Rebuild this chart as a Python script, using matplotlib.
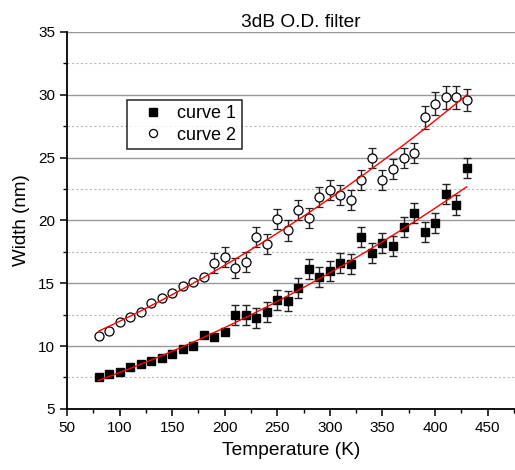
import numpy as np
import matplotlib
matplotlib.use("Agg")
import matplotlib.pyplot as plt
from matplotlib.ticker import MultipleLocator
from matplotlib.lines import Line2D

plt.rcParams['font.family'] = ['Liberation Sans', 'DejaVu Sans']

temperature = [80, 90, 100, 110, 120, 130, 140, 150, 160, 170, 180, 190,
               200, 210, 220, 230, 240, 250, 260, 270, 280, 290, 300, 310,
               320, 330, 340, 350, 360, 370, 380, 390, 400, 410, 420, 430]

curve1 = [7.5, 7.75, 7.9, 8.3, 8.55, 8.8, 9.05, 9.4, 9.8, 10.0, 10.9, 10.7,
          11.1, 12.5, 12.5, 12.2, 12.7, 13.7, 13.6, 14.6, 16.1, 15.5, 16.0, 16.6,
          16.5, 18.7, 17.4, 18.2, 18.0, 19.5, 20.6, 19.1, 19.8, 22.1, 21.2, 24.2]
curve1_err = [0, 0, 0, 0, 0, 0, 0, 0, 0, 0, 0, 0,
              0, 0.8, 0.8, 0.8, 0.8, 0.8, 0.8, 0.8, 0.8, 0.8, 0.8, 0.8,
              0.8, 0.8, 0.8, 0.8, 0.8, 0.8, 0.8, 0.8, 0.8, 0.8, 0.8, 0.8]

curve2 = [10.8, 11.2, 11.9, 12.3, 12.7, 13.4, 13.8, 14.2, 14.8, 15.1, 15.5, 16.6,
          17.1, 16.2, 16.7, 18.7, 18.1, 20.1, 19.2, 20.8, 20.2, 21.9, 22.4, 22.0,
          21.6, 23.2, 25.0, 23.2, 24.1, 25.0, 25.4, 28.2, 29.3, 29.8, 29.8, 29.6]
curve2_err = [0, 0, 0, 0, 0, 0, 0, 0, 0, 0, 0, 0.8,
              0.8, 0.8, 0.8, 0.8, 0.8, 0.8, 0.8, 0.8, 0.8, 0.8, 0.8, 0.8,
              0.8, 0.8, 0.8, 0.8, 0.8, 0.8, 0.8, 0.9, 0.9, 0.9, 0.9, 0.9]

fig = plt.figure(figsize=(5.15, 4.7), dpi=100)
ax = fig.add_axes([0.130, 0.130, 0.870, 0.802])

x = np.array(temperature, dtype=float)
xs = np.linspace(x.min(), x.max(), 200)

ax.errorbar(x, curve1, yerr=curve1_err, fmt='s', color='black', ms=5.8,
            ecolor='#222222', elinewidth=1.0, capsize=3.0, capthick=1.0,
            zorder=3)
ax.errorbar(x, curve2, yerr=curve2_err, fmt='o', color='black', mfc='white',
            mec='black', mew=0.9, ms=6.5, ecolor='#222222', elinewidth=1.0,
            capsize=3.0, capthick=1.0, zorder=3)

# quadratic fits through each series
for series in (curve1, curve2):
    coeffs = np.polyfit(x, series, 2)
    ax.plot(xs, np.polyval(coeffs, xs), color='red', lw=1.0, zorder=4)

ax.set_xlim(50, 476)
ax.set_ylim(5, 35)
ax.xaxis.set_major_locator(MultipleLocator(50))
ax.xaxis.set_minor_locator(MultipleLocator(25))
ax.yaxis.set_major_locator(MultipleLocator(5))
ax.yaxis.set_minor_locator(MultipleLocator(2.5))

ax.grid(True, which='major', axis='y', color='#999999', lw=1.0, ls='-')
ax.grid(True, which='minor', axis='y', color='#bbbbbb', lw=0.8, ls=(0, (2, 2)))
ax.set_axisbelow(True)

for side in ('top', 'right'):
    ax.spines[side].set_visible(False)
for side in ('left', 'bottom'):
    ax.spines[side].set_linewidth(1.3)

ax.tick_params(which='major', direction='out', length=5, width=1.1, labelsize=11)
ax.tick_params(which='minor', direction='out', length=3, width=1.0)

ax.set_xlabel('Temperature (K)', fontsize=13.8, labelpad=5)
ax.set_ylabel('Width (nm)', fontsize=13.5, labelpad=6)
fig.text(301 / 515, 1 - 27 / 470, '3dB O.D. filter', fontsize=13.8,
         ha='center', va='baseline')

handles = [
    Line2D([], [], marker='s', ls='none', color='black', ms=5.3),
    Line2D([], [], marker='o', ls='none', mfc='white', mec='black', mew=0.9, ms=5.8),
]
leg = ax.legend(handles, ['curve 1', 'curve 2'], loc='upper left',
                bbox_to_anchor=(0.133, 0.82), fontsize=13,
                frameon=True, fancybox=False, edgecolor='black',
                handlelength=2.3, handletextpad=0.2, borderpad=0.3,
                labelspacing=0.25, borderaxespad=0)
leg.get_frame().set_linewidth(1.2)

fig.savefig('out.png', dpi=100)
